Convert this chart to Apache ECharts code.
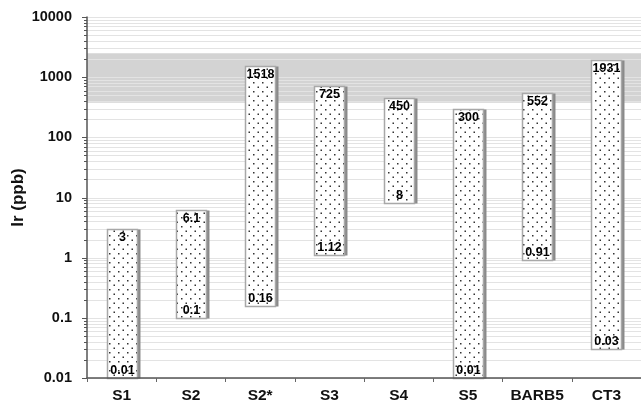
<!DOCTYPE html>
<html>
<head>
<meta charset="utf-8">
<script src="https://cdn.jsdelivr.net/npm/echarts@6/dist/echarts.min.js"></script>
<style>
  html, body { margin: 0; padding: 0; background: #fff; }
  #chart { width: 641px; height: 404px; }
</style>
</head>
<body>
<div id="chart"></div>
<script>
// Iridium concentration ranges per sample (ppb), log scale
const categories = ['S1', 'S2', 'S2*', 'S3', 'S4', 'S5', 'BARB5', 'CT3'];
const lowValues  = [0.01, 0.1, 0.16, 1.12, 8, 0.01, 0.91, 0.03];
const highValues = [3, 6.1, 1518, 725, 450, 300, 552, 1931];

// Shaded reference band
const bandLow = 375;
const bandHigh = 2500;

// Axis range and decades
const yMin = 0.01;
const yMax = 10000;
const decades = [0.01, 0.1, 1, 10, 100, 1000];
const mantissas = [1, 2, 3, 4, 5, 6, 7, 8, 9];

// Log grid values 1..9 x 10^n plus the top of the axis
const gridValues = [];
decades.forEach(function (d) {
  mantissas.forEach(function (m) {
    gridValues.push({ v: +(m * d).toPrecision(3), major: m === 1 });
  });
});
gridValues.push({ v: yMax, major: true });

// Staggered dot fill tile
function makeDotPattern() {
  const c = document.createElement('canvas');
  c.width = 9;
  c.height = 9;
  const ctx = c.getContext('2d');
  ctx.fillStyle = '#ffffff';
  ctx.fillRect(0, 0, 9, 9);
  ctx.fillStyle = '#333333';
  ctx.fillRect(1, 1, 1.5, 1.5);
  ctx.fillRect(5.5, 5.5, 1.5, 1.5);
  return c;
}
const dotPattern = { image: makeDotPattern(), repeat: 'repeat' };

const FONT_FAMILY = 'Liberation Sans, Arial, sans-serif';

const chart = echarts.init(document.getElementById('chart'), null, { renderer: 'canvas' });

const option = {
  animation: false,
  backgroundColor: '#ffffff',
  grid: { left: 87, right: 0, top: 17, bottom: 25, containLabel: false },
  xAxis: {
    type: 'category',
    data: categories,
    z: 10,
    axisLine: { show: true, lineStyle: { color: '#555', width: 1.5 } },
    axisTick: { show: true, length: 4, lineStyle: { color: '#666', width: 1 } },
    axisLabel: {
      interval: 0,
      margin: 10,
      color: '#111',
      fontFamily: FONT_FAMILY,
      fontWeight: 'bold',
      fontSize: 15.5
    },
    splitLine: { show: false }
  },
  yAxis: {
    type: 'log',
    logBase: 10,
    min: yMin,
    max: yMax,
    z: 10,
    name: 'Ir (ppb)',
    nameLocation: 'middle',
    nameGap: 60,
    nameRotate: 90,
    nameMoveOverlap: false,
    nameTextStyle: {
      color: '#111',
      fontFamily: FONT_FAMILY,
      fontWeight: 'bold',
      fontSize: 17
    },
    axisLine: { show: true, lineStyle: { color: '#555', width: 1.5 } },
    axisTick: { show: false },
    axisLabel: {
      margin: 15,
      color: '#111',
      fontFamily: FONT_FAMILY,
      fontWeight: 'bold',
      fontSize: 14.5,
      formatter: function (v) { return String(+v.toPrecision(3)); }
    },
    splitLine: { show: false }
  },
  series: [
    {
      // shaded band
      type: 'custom',
      z: 1,
      silent: true,
      data: [[0, bandLow, bandHigh]],
      encode: { x: 0, y: [1, 2] },
      renderItem: function (params, api) {
        const cs = params.coordSys;
        const yLo = api.coord([0, api.value(1)])[1];
        const yHi = api.coord([0, api.value(2)])[1];
        return {
          type: 'rect',
          shape: { x: cs.x, y: yHi, width: cs.width, height: yLo - yHi },
          style: { fill: '#d3d3d3' }
        };
      }
    },
    {
      // horizontal grid lines and y-axis ticks
      type: 'custom',
      z: 2,
      silent: true,
      clip: false,
      data: gridValues.map(function (g) { return [0, g.v, g.major ? 1 : 0]; }),
      encode: { x: 0, y: 1 },
      renderItem: function (params, api) {
        const cs = params.coordSys;
        const y = Math.round(api.coord([0, api.value(1)])[1]) + 0.5;
        const major = api.value(2) === 1;
        const tickLen = major ? 5 : 3;
        return {
          type: 'group',
          children: [
            {
              type: 'line',
              shape: { x1: cs.x, y1: y, x2: cs.x + cs.width, y2: y },
              style: { stroke: '#e3e3e3', lineWidth: 1 }
            },
            {
              type: 'line',
              shape: { x1: cs.x - tickLen, y1: y, x2: cs.x, y2: y },
              style: { stroke: '#555', lineWidth: 1 }
            }
          ]
        };
      }
    },
    {
      // concentration range bars
      type: 'custom',
      z: 3,
      data: categories.map(function (c, i) { return [i, lowValues[i], highValues[i]]; }),
      encode: { x: 0, y: [1, 2] },
      renderItem: function (params, api) {
        const i = api.value(0);
        const lo = api.value(1);
        const hi = api.value(2);
        const pLo = api.coord([i, lo]);
        const pHi = api.coord([i, hi]);
        const w = api.size([1, 0])[0] * 0.433;
        const x = Math.round(pLo[0] - w / 2) + 0.5;
        const yTop = Math.round(pHi[1]) + 0.5;
        const yBot = Math.round(pLo[1]) + 0.5;
        const h = yBot - yTop;
        const font = 'bold 12.5px "Liberation Sans", Arial, sans-serif';
        return {
          type: 'group',
          children: [
            {
              type: 'rect',
              shape: { x: x + w, y: yTop, width: 3, height: h },
              style: { fill: '#8a8a8a' }
            },
            {
              type: 'rect',
              shape: { x: x, y: yTop, width: w, height: h },
              style: { fill: dotPattern, stroke: '#a8a8a8', lineWidth: 1.5 }
            },
            {
              type: 'text',
              x: x + w / 2,
              y: yTop + 8,
              style: {
                text: String(hi),
                font: font,
                fill: '#000',
                align: 'center',
                verticalAlign: 'middle'
              }
            },
            {
              type: 'text',
              x: x + w / 2,
              y: yBot - 8,
              style: {
                text: String(lo),
                font: font,
                fill: '#000',
                align: 'center',
                verticalAlign: 'middle'
              }
            }
          ]
        };
      }
    }
  ]
};

chart.setOption(option);
</script>
</body>
</html>
